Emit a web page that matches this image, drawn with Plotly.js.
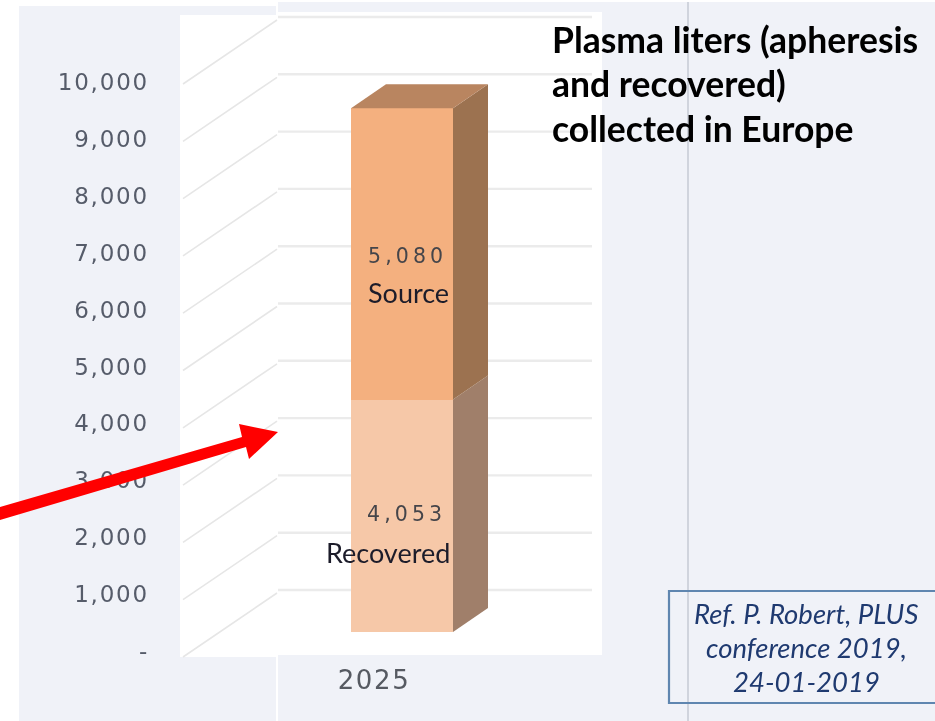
<!DOCTYPE html>
<html><head><meta charset="utf-8">
<script src="https://cdn.plot.ly/plotly-3.0.0.min.js"></script>
<style>
html,body{margin:0;padding:0;background:#fff;overflow:hidden}
#chart{width:935px;height:721px}
#chart .main-svg{filter:blur(.45px)}
#chart .y3tick text{letter-spacing:1.8px}
#chart .xtick text{letter-spacing:1.6px}
</style></head><body><div id="chart"></div>
<script>
// ---- data ----
const years = [2025];
const seriesNames = ['Recovered', 'Source'];
const recovered = [4053];
const source = [5080];
const axisValues = [0,1000,2000,3000,4000,5000,6000,7000,8000,9000,10000];
const axisLabels = ['-','1,000','2,000','3,000','4,000','5,000','6,000','7,000','8,000','9,000','10,000'];
const titleLines = ['Plasma liters (apheresis','and recovered)','collected in Europe'];
const refLines = ['Ref. P. Robert, PLUS','conference 2019,','24-01-2019'];

(function(){
// ---- geometry of the frame ----
const W=935,H=721,L=150,B=61,plotH=H-B,plotW=W-L;
const barPx=102, barCentrePx=402, yr=years[0];
const xRange=[yr+(L-barCentrePx)/barPx, yr+(W-barCentrePx)/barPx];
const rng=(zeroPx,pxPerUnit)=>[(zeroPx-plotH)/pxPerUnit, zeroPx/pxPerUnit];
const wallK=.0573, barK=.05735, labelK=.0569;
const px=x=>(x-L)/plotW, py=y=>1-y/plotH;
const toX=p=>yr+(p-barCentrePx)/barPx;

// ---- back wall lines (main y axis, drawn under the bars) ----
const traces=[];
const wallZero=590;
const gridLeft=toX(278), gridRight=toX(592), diagLeft=toX(183), diagRight=toX(277);
const diagStart=(590-657)/wallK, diagEnd=(590-593)/wallK;
axisValues.forEach(v=>{
  traces.push({type:'scatter',mode:'lines',x:[gridLeft,gridRight],y:[v,v],xaxis:'x',yaxis:'y',
    line:{color:'#ebebeb',width:2.4},hoverinfo:'skip',showlegend:false});
  traces.push({type:'scatter',mode:'lines',x:[diagLeft,diagRight],y:[v+diagStart,v+diagEnd],xaxis:'x',yaxis:'y',
    line:{color:'#e6e6e6',width:1.6},hoverinfo:'skip',showlegend:false});
});

// ---- bars ----
traces.push({type:'bar',name:seriesNames[0],x:years,y:recovered,width:1,xaxis:'x',yaxis:'y2',marker:{color:'#f6c8a8',line:{width:0}},showlegend:false});
traces.push({type:'bar',name:seriesNames[1],x:years,y:source,width:1,xaxis:'x',yaxis:'y2',marker:{color:'#f4b07f',line:{width:0}},showlegend:false});

// ---- 3D faces, derived from the same values ----
const dx=35/barPx, dv=24/barK, xr=yr+.5, xl=yr-.5;
const r0=recovered[0], peak=recovered[0]+source[0];
const face=(xs,ys,c)=>traces.push({type:'scatter',mode:'lines',x:xs,y:ys,fill:'toself',fillcolor:c,line:{width:0,color:c},xaxis:'x',yaxis:'y2',hoverinfo:'skip',showlegend:false});
face([xr,xr+dx,xr+dx,xr,xr],[0,dv,r0+dv,r0,0],'#a07f6a');
face([xr,xr+dx,xr+dx,xr,xr],[r0,r0+dv,peak+dv,peak,r0],'#9c7250');
face([xl,xl+dx,xr+dx,xr,xl],[peak,peak+dv,peak+dv,peak,peak],'#b98560');

// ---- labels ----
const ann=(t,x,y,o)=>Object.assign({text:t,xref:'paper',yref:'paper',x:px(x),y:py(y),showarrow:false,xanchor:'center',yanchor:'middle'},o);
const spaced=n=>n.toLocaleString('en-US').split('').join('\u2009');
const annotations=[
  ann(spaced(source[0]),405,256,{font:{family:'DejaVu Sans',size:20.5,color:'#45454a'}}),
  ann(seriesNames[1],408,292,{font:{family:'Lato',size:27,color:'#1c1c2a'}}),
  ann(spaced(recovered[0]),404,514,{font:{family:'DejaVu Sans',size:20.5,color:'#45454a'}}),
  ann(seriesNames[0],388,552,{font:{family:'Lato',size:27,color:'#1c1c2a'}})
];
titleLines.forEach((t,i)=>annotations.push(ann(t,550,40+44*i,{xanchor:'left',font:{family:'Lato',size:35.5,weight:700,color:'#000'}})));
refLines.forEach((t,i)=>annotations.push(ann(t,806,613+34*i,{font:{family:'Lato',size:27.5,style:'italic',color:'#1f3a70'}})));

const rect=(x0,y0,x1,y1,fill)=>({type:'rect',xref:'paper',yref:'paper',x0:px(x0),x1:px(x1),y0:py(y0),y1:py(y1),fillcolor:fill,line:{width:0},layer:'below'});
const pathOf=pts=>'M'+pts.map(p=>px(p[0])+','+py(p[1])).join('L')+'Z';
const shapes=[
  rect(19,6,278,H,'#f0f2f8'),
  rect(278,2,W,H,'#f0f2f8'),
  rect(180,15,277,657,'#ffffff'),
  rect(278,12,602,655,'#ffffff'),
  rect(276,0,278,H,'#ffffff'),
  {type:'line',xref:'paper',yref:'paper',x0:px(688),x1:px(688),y0:py(2),y1:py(H),line:{color:'#c8ccd6',width:1.6},layer:'below'},
  {type:'rect',xref:'paper',yref:'paper',x0:px(669),x1:px(937),y0:py(591),y1:py(703),line:{color:'#5f86b0',width:2.2},fillcolor:'rgba(0,0,0,0)',layer:'above'},
  {type:'path',xref:'paper',yref:'paper',path:pathOf([[0,507],[242,437],[239,424],[278,432],[249,459],[246,447],[0,520]]),fillcolor:'#ff0000',line:{width:0},layer:'above'}
];

const layout={
  width:W,height:H,margin:{l:L,r:0,t:0,b:B,autoexpand:false},
  paper_bgcolor:'#ffffff',plot_bgcolor:'rgba(0,0,0,0)',showlegend:false,barmode:'stack',
  xaxis:{type:'linear',range:xRange,tickmode:'array',tickvals:years,ticktext:years.map(String),ticks:'',ticklen:0,ticklabelshift:-28,ticklabelstandoff:2,
    showgrid:false,zeroline:false,showline:false,automargin:false,tickfont:{family:'DejaVu Sans',size:26,color:'#565a62'}},
  yaxis:{range:rng(wallZero,wallK),showgrid:false,zeroline:false,showticklabels:false,ticks:'',showline:false,automargin:false},
  yaxis2:{range:rng(632,barK),overlaying:'y',showgrid:false,zeroline:false,showticklabels:false,ticks:'',showline:false,automargin:false},
  yaxis3:{range:rng(651,labelK),overlaying:'y',side:'left',showgrid:false,zeroline:false,showline:false,ticks:'',automargin:false,
    tickmode:'array',tickvals:axisValues,ticktext:axisLabels,tickfont:{family:'DejaVu Sans',size:23,color:'#565c6a'}},
  shapes,annotations
};
// an invisible trace keeps the tick-label axis alive
traces.push({type:'scatter',mode:'lines',x:years,y:[0],xaxis:'x',yaxis:'y3',line:{width:0},hoverinfo:'skip',showlegend:false});
Plotly.newPlot('chart',traces,layout,{displayModeBar:false,staticPlot:true});
})();
</script></body></html>
